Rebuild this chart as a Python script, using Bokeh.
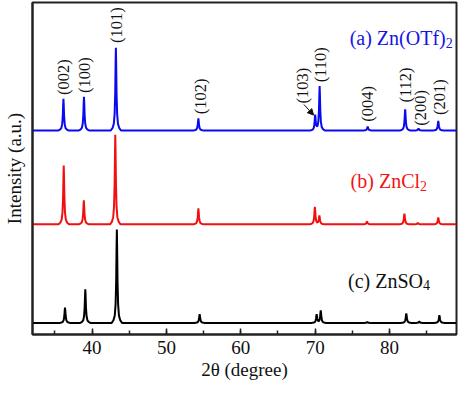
import numpy as np
from bokeh.plotting import figure
from bokeh.models import Range1d, SingleIntervalTicker, FixedTicker, ColumnDataSource, Arrow, NormalHead
from bokeh.embed import file_html
from bokeh.resources import INLINE
from bokeh.core.properties import value

# ---- data (2theta in degrees, intensity in arbitrary units) ----
x_min, x_max = 32, 89
y_min, y_max = 0, 345

# (a) Zn(OTf)2 - blue
blue_pos = [36.16, 38.92, 43.21, 54.30, 70.00, 70.60, 77.06, 82.10, 83.90, 86.55]
blue_h   = [33, 35, 86, 12.5, 16, 46, 4, 22, 2, 10]
blue_offset = 212

# (b) ZnCl2 - red
red_pos = [36.20, 38.90, 43.13, 54.30, 69.96, 70.57, 76.97, 82.00, 83.80, 86.55]
red_h   = [61, 25, 93, 16.5, 18, 9, 3, 11, 1.5, 7]
red_offset = 114.5

# (c) ZnSO4 - black
black_pos = [36.37, 39.10, 43.34, 54.47, 70.20, 70.75, 77.00, 82.25, 84.00, 86.70]
black_h   = [16, 35, 97, 9, 9, 13, 1, 10, 1.5, 8]
black_offset = 12

# hkl labels
hkl_text = ["(002)", "(100)", "(101)", "(102)", "(103)", "(110)", "(004)", "(112)", "(200)", "(201)"]
hkl_x    = [36.16, 38.97, 43.30, 54.56, 68.36, 70.66, 77.06, 82.17, 84.21, 86.68]
hkl_y    = [249, 251, 303, 229, 240, 262, 221, 241, 217, 228]

# series labels
series_main = ["(a) Zn(OTf)", "(b) ZnCl", "(c) ZnSO"]
series_sub  = ["2", "2", "4"]
series_x    = [87.55, 84.10, 84.50]
series_y    = [308, 159, 56]
series_col  = ["#1414e6", "#f01414", "#111111"]

# ---- peak profile template (style) ----
prof_dx = np.array([-0.7, -0.45, -0.28, -0.17, -0.09, -0.04, 0.0, 0.04, 0.09, 0.17, 0.28, 0.45, 0.7])
prof_f  = np.array([0.0, 0.03, 0.08, 0.2, 0.45, 0.8, 1.0, 0.8, 0.45, 0.2, 0.08, 0.03, 0.0])

grid = np.arange(x_min, x_max + 0.001, 0.01)

def pattern(pos, h, off):
    y = np.full_like(grid, float(off))
    for c, a in zip(pos, h):
        y += a * np.interp(grid - c, prof_dx, prof_f, left=0, right=0)
    return y

FONT = "Liberation Serif"

p = figure(width=458, height=382, output_backend="svg", toolbar_location=None,
           x_range=Range1d(x_min, x_max), y_range=Range1d(y_min, y_max),
           min_border_left=0, min_border_right=2, min_border_top=2, min_border_bottom=0)
p.background_fill_color = "white"
p.border_fill_color = "white"
p.xgrid.visible = False
p.ygrid.visible = False
p.outline_line_color = "#222222"
p.outline_line_width = 2
p.outline_line_alpha = 1

for pos, h, off, col in [(blue_pos, blue_h, blue_offset, "#0a0af0"),
                         (red_pos, red_h, red_offset, "#f01010"),
                         (black_pos, black_h, black_offset, "#000000")]:
    p.line(grid, pattern(pos, h, off), line_color=col, line_width=2)

# hkl labels
src = ColumnDataSource(dict(x=hkl_x, y=hkl_y, text=hkl_text))
p.text(x="x", y="y", text="text", source=src, angle=np.pi / 2,
       text_align="left", text_baseline="middle", text_color="#111111",
       text_font=value(FONT), text_font_size="16.5px")

# arrow to (103) shoulder
p.add_layout(Arrow(end=NormalHead(size=6, fill_color="#111111", line_color="#111111"),
                   x_start=68.49, y_start=239, x_end=69.79, y_end=228,
                   line_color="#111111", line_width=1))

# series labels with subscripts
for t, s, x, y, c in zip(series_main, series_sub, series_x, series_y, series_col):
    p.text(x=[x], y=[y], text=[t], text_align="right", text_baseline="alphabetic",
           text_color=c, text_font=value(FONT), text_font_size="20px")
    p.text(x=[x], y=[y - 5], text=[s], text_align="left", text_baseline="alphabetic",
           text_color=c, text_font=value(FONT), text_font_size="14px")

# x axis
xa = p.xaxis[0]
xa.ticker = SingleIntervalTicker(interval=10, num_minor_ticks=2)
xa.major_tick_in = 6
xa.major_tick_out = 0
xa.minor_tick_in = 4
xa.minor_tick_out = 0
xa.major_tick_line_color = "#222222"
xa.minor_tick_line_color = "#222222"
xa.major_tick_line_width = 1.5
xa.minor_tick_line_width = 1.5
xa.axis_line_color = "#222222"
xa.axis_line_width = 2
xa.major_label_text_font = FONT
xa.major_label_text_font_size = "19px"
xa.major_label_text_color = "#111111"
xa.major_label_standoff = 6
xa.axis_label = "2θ (degree)"
xa.axis_label_text_font = FONT
xa.axis_label_text_font_size = "19px"
xa.axis_label_text_font_style = "normal"
xa.axis_label_text_color = "#111111"
xa.axis_label_standoff = 2

# y axis (label only)
ya = p.yaxis[0]
ya.ticker = FixedTicker(ticks=[])
ya.major_tick_in = 0
ya.major_tick_out = 0
ya.minor_tick_in = 0
ya.minor_tick_out = 0
ya.axis_line_color = "#222222"
ya.axis_line_width = 2
ya.major_label_text_font_size = "0px"
ya.major_label_standoff = 0
ya.axis_label = "Intensity (a.u.)"
ya.axis_label_text_font = FONT
ya.axis_label_text_font_size = "19px"
ya.axis_label_text_font_style = "normal"
ya.axis_label_text_color = "#111111"
ya.axis_label_standoff = 8

open("out.html", "w").write(file_html(p, INLINE))
